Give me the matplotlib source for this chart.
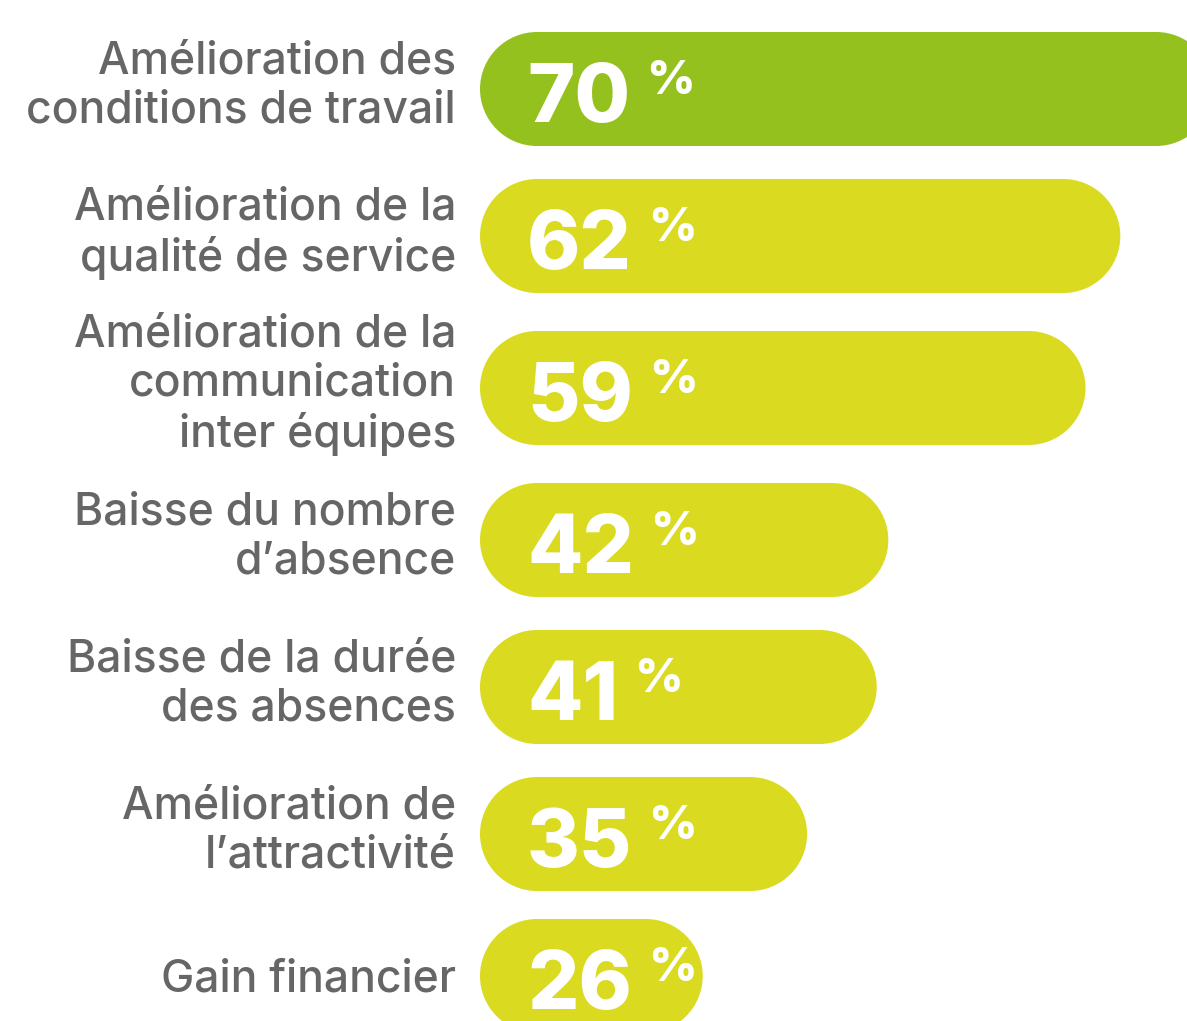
import matplotlib.pyplot as plt
from matplotlib.patches import Ellipse, Rectangle

# Data
labels = [
    "Amélioration des\nconditions de travail",
    "Amélioration de la\nqualité de service",
    "Amélioration de la\ncommunication\ninter équipes",
    "Baisse du nombre\nd\u2019absence",
    "Baisse de la durée\ndes absences",
    "Amélioration de\nl\u2019attractivité",
    "Gain financier",
]
shares = [70, 62, 59, 42, 41, 35, 26]

# Colours
top_color = '#95c11f'
bar_color = '#dadb21'
text_gray = '#666666'

W, H, DPI = 1187, 1021, 100
fig = plt.figure(figsize=(W / DPI, H / DPI), dpi=DPI)
ax = fig.add_axes([0, 0, 1, 1])
ax.set_axis_off()

# Layout: bars start at a common baseline on a truncated % axis,
# y is in pixels from the top; rows with more label lines get a bit more room.
bar_start = 6.8          # % value where every pill begins
px_per_pct = 11.6        # horizontal scale
first_row = 89
bar_px = 114

nlines = [lab.count("\n") + 1 for lab in labels]
ypos = [first_row]
for a, b in zip(nlines[:-1], nlines[1:]):
    ypos.append(ypos[-1] + 147 + 5 * (a + b - 4))

xmin = bar_start - 480 / px_per_pct
ax.set_xlim(xmin, xmin + W / px_per_pct)
ax.set_ylim(H, 0)

r_x = (bar_px / 2) / px_per_pct

for i, (lab, v, y) in enumerate(zip(labels, shares, ypos)):
    color = top_color if i == 0 else bar_color
    # pill = rectangle + two round caps
    ax.add_patch(Rectangle((bar_start + r_x, y - bar_px / 2),
                           v - bar_start - 2 * r_x, bar_px,
                           fc=color, ec='none'))
    for cx in (bar_start + r_x, v - r_x):
        ax.add_patch(Ellipse((cx, y), 2 * r_x, bar_px, fc=color, ec='none'))

    num = ax.annotate(f"{v}", xy=(bar_start, y), xytext=(47, -33),
                      textcoords='offset pixels', ha='left', va='baseline',
                      color='white', fontsize=58, fontweight='heavy',
                      family='Inter')
    ax.annotate("%", xy=(1, y), xycoords=(num, 'data'), xytext=(16, -5),
                textcoords='offset pixels', ha='left', va='baseline',
                color='white', fontsize=34, fontweight='heavy', family='Inter')

    dy = 3 if nlines[i] > 1 else -3
    ax.annotate(lab, xy=(bar_start, y), xytext=(-24, dy),
                textcoords='offset pixels', ha='right', va='center',
                multialignment='right', color=text_gray, fontsize=32,
                fontweight='medium', family='Inter', linespacing=1.22)

fig.savefig('out.png', dpi=DPI)
